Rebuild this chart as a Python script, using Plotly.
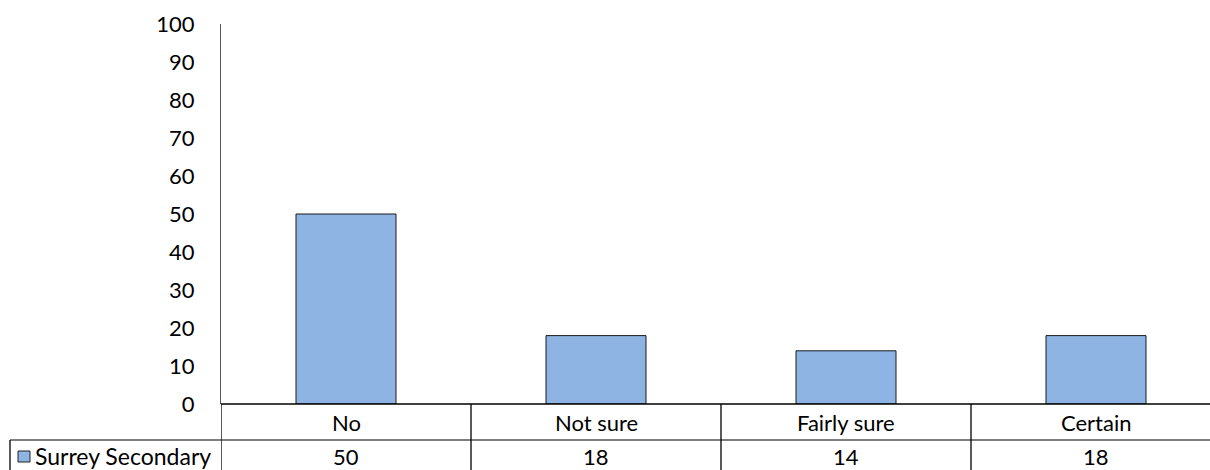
import plotly.graph_objects as go

categories = ["No", "Not sure", "Fairly sure", "Certain"]
values = [50, 18, 14, 18]
series_name = "Surrey Secondary"
y_ticks = [0, 10, 20, 30, 40, 50, 60, 70, 80, 90, 100]

W, H = 1210, 470
L, T = 221, 24
PH = 380
B = H - T - PH
PW = W - L
FONT = "Lato, 'Open Sans', sans-serif"
FS = 22
BAR = "#8EB4E3"
EDGE = "#1a1a1a"

def py(p):
    return (T + PH - p) / PH

def px(p):
    return (p - L) / PW

fig = go.Figure()
fig.add_trace(go.Bar(
    x=categories, y=values, width=0.4, name=series_name,
    marker=dict(color=BAR, line=dict(color=EDGE, width=1)),
    showlegend=False, hoverinfo="skip",
))

cat_px = 250
xmax = -0.5 + PW / cat_px

shapes = []
shapes.append(dict(type="line", xref="paper", yref="paper", x0=0, x1=1.02, y0=0, y1=0,
                   line=dict(color="#000", width=1.3)))
shapes.append(dict(type="line", xref="paper", yref="paper", x0=px(10), x1=1.02, y0=py(440), y1=py(440),
                   line=dict(color="#555", width=1.3)))
for i in range(len(categories)):
    shapes.append(dict(type="line", xref="x", yref="paper", x0=i - 0.5, x1=i - 0.5,
                       y0=0, y1=py(480), line=dict(color="#000", width=1.3)))
shapes.append(dict(type="line", xref="paper", yref="paper", x0=px(10), x1=px(10),
                   y0=py(440), y1=py(480), line=dict(color="#000", width=1.3)))
shapes.append(dict(type="rect", xref="paper", yref="paper", x0=px(18), x1=px(30),
                   y0=py(462), y1=py(451), fillcolor=BAR, line=dict(color="#222", width=1)))

annotations = []
for c, v in zip(categories, values):
    annotations.append(dict(x=c, y=py(422), xref="x", yref="paper", text=c, showarrow=False,
                            font=dict(family=FONT, size=FS, color="#000"), yanchor="middle"))
    annotations.append(dict(x=c, y=py(456), xref="x", yref="paper", text=str(v), showarrow=False,
                            font=dict(family=FONT, size=FS, color="#000"), yanchor="middle"))
annotations.append(dict(x=px(33), y=py(456), xref="paper", yref="paper", text=series_name,
                        showarrow=False, xanchor="left", yanchor="middle",
                        font=dict(family=FONT, size=23, color="#000")))

fig.update_layout(
    width=W, height=H,
    margin=dict(l=L, r=0, t=T, b=B, pad=0),
    paper_bgcolor="white", plot_bgcolor="white",
    font=dict(family=FONT, size=FS, color="#000"),
    xaxis=dict(range=[-0.5, xmax], showticklabels=False, showgrid=False, zeroline=False,
               showline=False, ticks=""),
    yaxis=dict(range=[0, 100], tickvals=y_ticks, showgrid=False, zeroline=False,
               showline=True, linecolor="#555", linewidth=1.3, ticks="",
               ticklabelstandoff=21, tickfont=dict(family=FONT, size=FS, color="#000")),
    shapes=shapes, annotations=annotations,
)

fig.write_html(
    "out.html",
    config={"displayModeBar": False},
    post_script="document.body.style.margin='0';document.body.style.overflow='hidden';"
                "document.documentElement.style.overflow='hidden';",
)
